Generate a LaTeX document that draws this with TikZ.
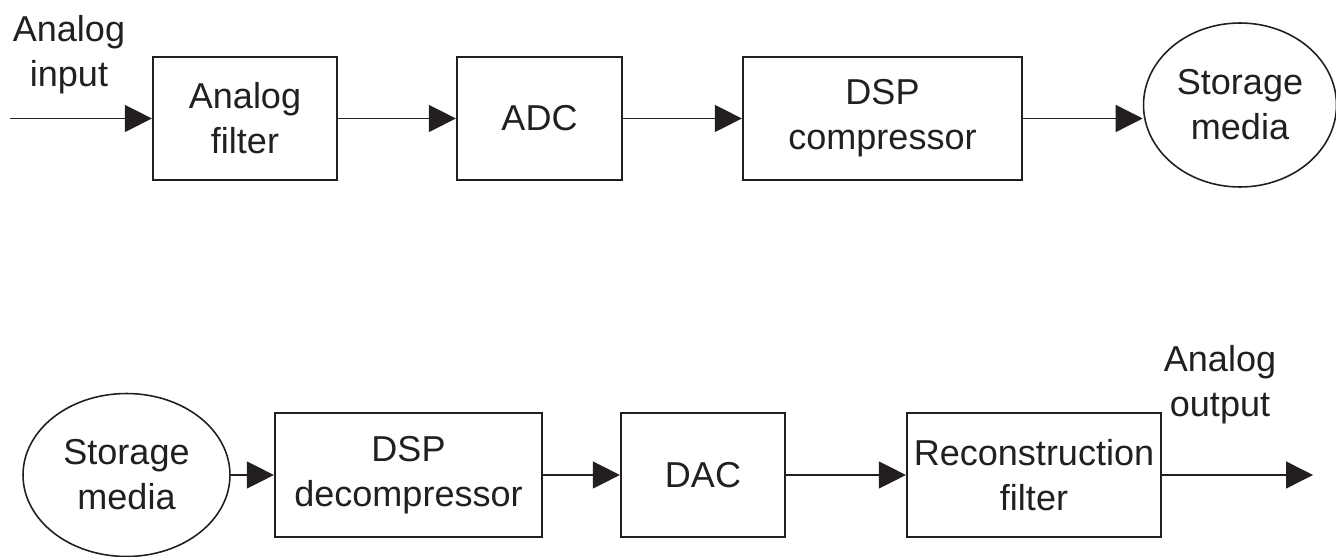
\documentclass[tikz,border=0pt]{standalone}
\usepackage{fontspec}
\setmainfont{Liberation Sans}
\usetikzlibrary{arrows.meta,shapes.geometric}
\definecolor{ink}{HTML}{231F20}
\begin{document}
\begin{tikzpicture}[x=0.02cm,y=-0.02cm,
  every node/.style={font=\fontsize{20.5}{25.5}\selectfont, text=ink},
  block/.style={draw=ink, line width=1.3pt, rectangle, align=center, inner sep=0pt},
  store/.style={draw=ink, line width=0.9pt, ellipse, align=center, inner sep=0pt},
  caption/.style={align=center, inner sep=0pt},
  flow/.style={draw=ink, line width=0.8pt, -{Triangle[length=0.54cm,width=0.54cm]}}]
\useasboundingbox (0,0) rectangle (1336,557);

% recording chain
\node[block, minimum width=3.68cm, minimum height=2.46cm] (afilt) at (245,118.5) {Analog\\filter};
\node[block, minimum width=3.30cm, minimum height=2.46cm] (adc) at (539.5,118.5) {ADC};
\node[block, minimum width=5.58cm, minimum height=2.46cm] (dspc) at (882.5,118.5) {DSP\\compressor};
\node[store, minimum width=3.86cm, minimum height=3.28cm] (stor1) at (1240,105) {Storage\\media};
\node[caption, anchor=north] (inlbl) at (69,15) {Analog\\input};
\coordinate (in) at (10,118.5);

\draw[flow] (in) -- (afilt);
\draw[flow] (afilt) -- (adc);
\draw[flow] (adc) -- (dspc);
\draw[flow] (dspc.east) -- (dspc.east -| stor1.west);

% playback chain
\node[store, minimum width=4.14cm, minimum height=3.26cm] (stor2) at (126.5,475) {Storage\\media};
\node[block, minimum width=5.34cm, minimum height=2.48cm] (dspd) at (408.5,475) {DSP\\decompressor};
\node[block, minimum width=3.28cm, minimum height=2.48cm] (dac) at (703,475) {DAC};
\node[block, minimum width=5.08cm, minimum height=2.48cm] (recon) at (1034,475) {Reconstruction\\filter};
\node[caption, anchor=north] (outlbl) at (1220,345) {Analog\\output};
\coordinate (out) at (1313,475);

\draw[flow] (stor2) -- (dspd);
\draw[flow] (dspd) -- (dac);
\draw[flow] (dac) -- (recon);
\draw[flow] (recon) -- (out);
\end{tikzpicture}
\end{document}
